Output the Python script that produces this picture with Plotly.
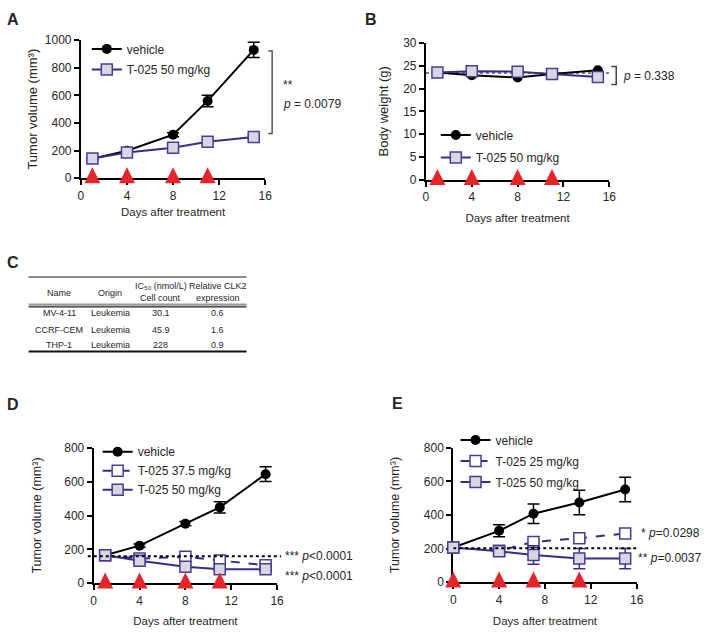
import plotly.graph_objects as go

W, H = 709, 633
FONT = "Liberation Sans, Arial, Helvetica, sans-serif"
TXT = "#262626"
PURPLE = "#3b2a88"
MK_EDGE = "#4a3a96"
GRAY_FILL = "#d7d7df"
RED = "#e4262a"

# ---------------- data ----------------
day_ticks = [0, 4, 8, 12, 16]
x_title = "Days after treatment"
tv_title = "Tumor volume (mm³)"
bw_title = "Body weight (g)"

# Panel A: tumor volume
a_days = [1, 4, 8, 11, 15]
a_dose_days = [1, 4, 8, 11]
a_vehicle = [140, 199, 315, 560, 930]
a_vehicle_err = [6, 12, 14, 42, 55]
a_t025 = [143, 186, 220, 264, 298]
a_t025_err = [5, 8, 10, 12, 14]
a_yticks = [0, 200, 400, 600, 800, 1000]

# Panel B: body weight
b_days = [1, 4, 8, 11, 15]
b_dose_days = [1, 4, 8, 11]
b_vehicle = [23.5, 22.9, 22.4, 23.2, 24.0]
b_vehicle_err = [0.3, 0.3, 0.3, 0.3, 0.3]
b_t025 = [23.5, 23.8, 23.7, 23.2, 22.5]
b_t025_err = [0.3, 0.3, 0.3, 0.3, 0.3]
b_baseline = 23.4
b_yticks = [0, 5, 10, 15, 20, 25, 30]

# Panel C: table
c_header_1 = ["Name", "Origin", "IC₅₀ (nmol/L)", "Relative CLK2"]
c_header_2 = ["", "", "Cell count", "expression"]
c_names = ["MV-4-11", "CCRF-CEM", "THP-1"]
c_origin = ["Leukemia", "Leukemia", "Leukemia"]
c_ic50 = ["30.1", "45.9", "228"]
c_clk2 = ["0.6", "1.6", "0.9"]

# Panel D
d_days = [1, 4, 8, 11, 15]
d_dose_days = [1, 4, 8, 11]
d_vehicle = [165, 222, 352, 448, 644]
d_vehicle_err = [6, 10, 12, 33, 43]
d_t37 = [165, 146, 156, 134, 106]
d_t37_err = [6, 8, 10, 14, 12]
d_t50 = [165, 133, 97, 83, 83]
d_t50_err = [6, 8, 10, 12, 12]
d_baseline = 159
d_yticks = [0, 200, 400, 600, 800]

# Panel E
e_days = [0, 4, 7, 11, 15]
e_dose_days = [0, 4, 7, 11]
e_vehicle = [207, 306, 408, 474, 552]
e_vehicle_err = [10, 36, 58, 73, 73]
e_t25 = [207, 188, 240, 262, 290]
e_t25_err = [10, 14, 14, 14, 12]
e_t50 = [207, 184, 162, 141, 141]
e_t50_err = [10, 20, 55, 60, 60]
e_baseline = 203
e_yticks = [0, 200, 400, 600, 800]

# ---------------- helpers ----------------
def fx(p):
    return p / W


def fy(p):
    return 1 - p / H


fig = go.Figure()
annotations = []
shapes = []

axis_common = dict(
    showline=True, linecolor="black", linewidth=2,
    ticks="outside", ticklen=5, tickwidth=2, tickcolor="black",
    showgrid=False, zeroline=False, layer="below traces",
    tickfont=dict(family=FONT, size=12, color=TXT), fixedrange=True,
)

panels = {}


def add_panel(i, left, right, top, bottom, yrange, yticks, ytitle, ysize, ystand, xstand):
    sfx = "" if i == 1 else str(i)
    fig.layout["xaxis" + sfx] = dict(
        axis_common, domain=[fx(left), fx(right)], range=[0, 16], tickvals=day_ticks,
        anchor="y" + sfx,
        title=dict(text=x_title, standoff=xstand, font=dict(family=FONT, size=11.5, color=TXT)))
    fig.layout["yaxis" + sfx] = dict(
        axis_common, domain=[fy(bottom), fy(top)], range=yrange, tickvals=yticks,
        anchor="x" + sfx,
        title=dict(text=ytitle, standoff=ystand, font=dict(family=FONT, size=ysize, color=TXT)))
    panels[i] = dict(x="x" + sfx, y="y" + sfx, top=top, bottom=bottom, left=left, right=right,
                     yrange=yrange)


def series(i, x, y, err, name, kind, legend, show_err=True):
    p = panels[i]
    if kind == "vehicle":
        line = dict(color="black", width=2)
        marker = dict(symbol="circle", size=10, color="black")
        ecol = "black"
    elif kind == "filled":
        line = dict(color=PURPLE, width=2)
        marker = dict(symbol="square", size=11, color=GRAY_FILL, line=dict(color=MK_EDGE, width=1.5))
        ecol = PURPLE
    else:
        line = dict(color=PURPLE, width=2, dash="dash")
        marker = dict(symbol="square", size=11, color="white", line=dict(color=MK_EDGE, width=1.5))
        ecol = PURPLE
    fig.add_trace(go.Scatter(
        x=x, y=y, name=name, mode="lines+markers", line=line, marker=marker,
        error_y=dict(type="data", array=err, visible=show_err, color=ecol, thickness=1.5, width=6),
        xaxis=p["x"], yaxis=p["y"], legend=legend, legendgroup=name + legend,
        cliponaxis=False, hoverinfo="x+y+name",
    ))


def arrows(i, days):
    p = panels[i]
    h = p["bottom"] - p["top"]
    tip = 11 * (p["yrange"][1] - p["yrange"][0]) / h
    fig.add_trace(go.Scatter(
        x=days, y=[tip] * len(days), mode="markers",
        marker=dict(symbol="arrow-up", size=16, color=RED, line=dict(width=0)),
        xaxis=p["x"], yaxis=p["y"], showlegend=False, cliponaxis=False, hoverinfo="skip",
    ))


def text(x, y, s, size=12, anchor="left", family=FONT, color=TXT):
    annotations.append(dict(
        x=fx(x), y=fy(y), xref="paper", yref="paper", text=s, showarrow=False,
        xanchor=anchor, yanchor="middle", borderpad=0,
        font=dict(family=family, size=size, color=color), align="center",
    ))


# ---------------- panels ----------------
add_panel(1, 79, 266, 34, 175, [0, 1000], a_yticks, tv_title, 13, 4, 6)
add_panel(2, 429, 615, 36.7, 176.7, [0, 30], b_yticks, bw_title, 13, 12, 11)
add_panel(3, 92, 278, 450.7, 589.3, [0, 800], d_yticks, tv_title, 12.5, 20, 10)
add_panel(4, 456.7, 642.7, 450.7, 588.3, [0, 800], e_yticks, tv_title, 12.5, 21, 11)

# A
series(1, a_days, a_vehicle, a_vehicle_err, "vehicle", "vehicle", "legend")
series(1, a_days, a_t025, a_t025_err, "T-025 50 mg/kg", "filled", "legend")
arrows(1, a_dose_days)
shapes.append(dict(type="path", xref="paper", yref="y",
                   path=f"M{fx(269)},{a_vehicle[-1] - 8} L{fx(273)},{a_vehicle[-1] - 8} "
                        f"L{fx(273)},{a_t025[-1] + 26} L{fx(269)},{a_t025[-1] + 26}",
                   line=dict(color="#555", width=1.5)))
text(283, 80, "**", 12)
text(283, 99, "<i>p</i> = 0.0079", 12)

# B
series(2, b_days, b_vehicle, b_vehicle_err, "vehicle", "vehicle", "legend2", show_err=False)
series(2, b_days, b_t025, b_t025_err, "T-025 50 mg/kg", "filled", "legend2", show_err=False)
shapes.append(dict(type="line", xref="x2", yref="y2", x0=0, x1=16, y0=b_baseline, y1=b_baseline,
                   line=dict(color="black", width=1.2, dash="dot"), layer="below"))
arrows(2, b_dose_days)
shapes.append(dict(type="path", xref="paper", yref="y2",
                   path=f"M{fx(617)},24.8 L{fx(622)},24.8 L{fx(622)},20.9 L{fx(617)},20.9",
                   line=dict(color="#444", width=1.5)))
text(628, 71, "<i>p</i> = 0.338", 12)

# D
series(3, d_days, d_vehicle, d_vehicle_err, "vehicle", "vehicle", "legend3")
series(3, d_days, d_t37, d_t37_err, "T-025 37.5 mg/kg", "open", "legend3")
series(3, d_days, d_t50, d_t50_err, "T-025 50 mg/kg", "filled", "legend3")
shapes.append(dict(type="line", xref="paper", yref="y3", x0=fx(86), x1=fx(282),
                   y0=d_baseline, y1=d_baseline, line=dict(color="black", width=2, dash="dot")))
arrows(3, d_dose_days)
text(285, 561, "*** <i>p</i>&lt;0.0001", 12)
text(285, 582, "*** <i>p</i>&lt;0.0001", 12)

# E
series(4, e_days, e_vehicle, e_vehicle_err, "vehicle", "vehicle", "legend4")
series(4, e_days, e_t25, e_t25_err, "T-025 25 mg/kg", "open", "legend4")
series(4, e_days, e_t50, e_t50_err, "T-025 50 mg/kg", "filled", "legend4")
shapes.append(dict(type="line", xref="x4", yref="y4", x0=0, x1=16,
                   y0=e_baseline, y1=e_baseline, line=dict(color="black", width=2, dash="dot")))
arrows(4, e_dose_days)
text(646, 538, "* <i>p</i>=0.0298", 12)
text(643, 563, "** <i>p</i>=0.0037", 12)

# panel letters
for lt, x, y in [("A", 3, 13), ("B", 366, 13), ("C", 3, 261), ("D", 3, 407), ("E", 394, 405)]:
    text(x, y, f"<b>{lt}</b>", 16)

# ---------------- table C ----------------
col_x = [57, 109, 160, 218]
row_y = [313, 330, 346]
tbl_l, tbl_r = 26, 247
TS = 9
for j, cx in enumerate(col_x):
    if c_header_2[j]:
        text(cx, 285, c_header_1[j], TS, anchor="center")
        text(cx, 298, c_header_2[j], TS, anchor="center")
    else:
        text(cx, 292, c_header_1[j], TS, anchor="center")
for r, ry in enumerate(row_y):
    for j, col in enumerate([c_names, c_origin, c_ic50, c_clk2]):
        text(col_x[j], ry, col[r], TS, anchor="center")
for yy, col, wd in [(276, "#666", 1.5), (304.3, "#999", 2.2), (306.6, "#222", 1.2), (352.3, "#111", 2)]:
    shapes.append(dict(type="line", xref="paper", yref="paper", x0=fx(tbl_l), x1=fx(tbl_r),
                       y0=fy(yy), y1=fy(yy), line=dict(color=col, width=wd)))

# ---------------- legends ----------------
leg_common = dict(bgcolor="rgba(0,0,0,0)", borderwidth=0, xanchor="left", yanchor="top",
                  font=dict(family=FONT, size=12, color=TXT), itemclick=False, itemdoubleclick=False)
fig.update_layout(
    legend=dict(leg_common, x=fx(85), y=fy(28), tracegroupgap=1.5),
    legend2=dict(leg_common, x=fx(439), y=fy(116), tracegroupgap=3.5),
    legend3=dict(leg_common, x=fx(96), y=fy(440), tracegroupgap=0),
    legend4=dict(leg_common, x=fx(459), y=fy(428), tracegroupgap=2),
)

fig.update_layout(
    width=W, height=H, margin=dict(l=0, r=0, t=0, b=0),
    paper_bgcolor="white", plot_bgcolor="white",
    annotations=annotations, shapes=shapes,
    font=dict(family=FONT, color=TXT),
    hovermode="closest",
)

fig.write_html("out.html", config={"displayModeBar": False},
               post_script="document.body.style.margin='0';document.body.style.overflow='hidden';")
